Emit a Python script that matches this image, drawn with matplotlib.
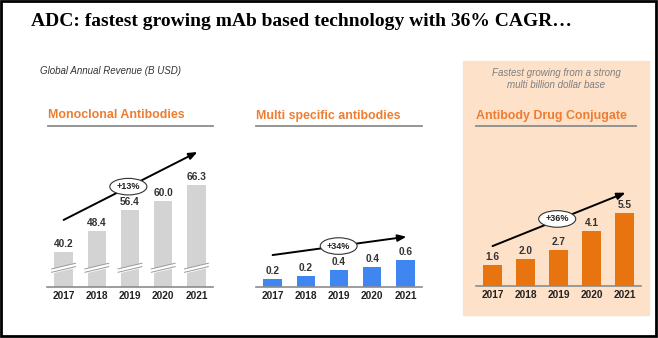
import numpy as np
import matplotlib
matplotlib.use("Agg")
import matplotlib.pyplot as plt
from matplotlib.patches import Rectangle

plt.rcParams['font.family'] = ['Liberation Sans', 'DejaVu Sans']

years = ["2017", "2018", "2019", "2020", "2021"]
mab_values = [40.2, 48.4, 56.4, 60.0, 66.3]
multi_values = [0.18, 0.24, 0.36, 0.44, 0.58]
adc_values = [1.6, 2.0, 2.7, 4.1, 5.5]
cagr = ["+13%", "+34%", "+36%"]

W, H = 658, 338
fig = plt.figure(figsize=(W / 100, H / 100), dpi=100)

# background layer in pixel coordinates
bg = fig.add_axes([0, 0, 1, 1])
bg.set_xlim(0, W)
bg.set_ylim(H, 0)
bg.axis("off")

orange = "#ED7D31"
bg.add_patch(Rectangle((463, 61), 186, 254, color="#FDE1C9", zorder=0))
bg.add_patch(Rectangle((1.2, 1.2), W - 3.2, H - 3, fill=False, ec="black", lw=2.0, zorder=5))

bg.text(31, 21, "ADC: fastest growing mAb based technology with 36% CAGR\u2026",
        family="Liberation Serif", fontweight="bold", fontsize=14, va="center", ha="left")
bg.text(40, 71, "Global Annual Revenue (B USD)", fontsize=7, style="italic",
        color="#333333", va="center")
bg.text(556, 73, "Fastest growing from a strong", fontsize=7, style="italic",
        color="#7f7f7f", va="center", ha="center")
bg.text(556, 85, "multi billion dollar base", fontsize=7, style="italic",
        color="#7f7f7f", va="center", ha="center")

panels = [("Monoclonal Antibodies", 48, 213), ("Multi specific antibodies", 256, 422),
          ("Antibody Drug Conjugate", 476, 636)]
for name, x0, x1 in panels:
    bg.text(x0, 115.5, name, fontsize=8.9, fontweight="bold", color=orange, va="center")
    bg.plot([x0, x1], [126, 126], color="#8c8c8c", lw=1.3)


def make_chart(left_px, right_px, base_px, values, color, ymin, px_per_unit):
    ax = fig.add_axes([left_px / W, 1 - base_px / H, (right_px - left_px) / W, 150 / H])
    ax.set_xlim(-0.5, 4.5)
    ax.set_ylim(ymin, ymin + 150 / px_per_unit)
    x = np.arange(len(values))
    ax.bar(x, np.array(values) - ymin, bottom=ymin, width=0.55, color=color, zorder=2)
    for xi, v in zip(x, values):
        ax.text(xi, v + 3 / px_per_unit, f"{v:.1f}", ha="center", va="bottom",
                fontsize=7.3, fontweight="bold", color="#333333")
    ax.set_xticks(x)
    ax.set_xticklabels(years, fontsize=7.3, fontweight="bold", color="#222222")
    ax.tick_params(length=0, pad=3)
    for s in ["top", "right", "left"]:
        ax.spines[s].set_visible(False)
    ax.spines["bottom"].set_color("#8c8c8c")
    ax.spines["bottom"].set_linewidth(1.2)
    ax.set_yticks([])
    ax.patch.set_alpha(0)
    return ax


ax1 = make_chart(47, 213, 287, mab_values, "#D3D3D3", 26.7, 2.58)
ax2 = make_chart(256, 422, 287, multi_values, "#3F86F0", 0, 46.5)
ax3 = make_chart(476, 641, 286, adc_values, "#E8740F", 0, 13.3)

# axis break marks on the monoclonal bars
for xi in range(len(mab_values)):
    xs = np.array([xi - 0.36, xi + 0.36])
    y0 = np.array([32.4, 34.6])
    ax1.fill_between(xs, y0, y0 + 1.3, color="white", zorder=3)
    ax1.plot(xs, y0, color="#9a9a9a", lw=0.7, zorder=4)
    ax1.plot(xs, y0 + 1.3, color="#9a9a9a", lw=0.7, zorder=4)

# growth arrows with CAGR labels (axes fraction y)
arrows = [(ax1, 0.447, 0.90, 1.95, 0.669), (ax2, 0.213, 0.335, 1.99, 0.273),
          (ax3, 0.266, 0.622, 1.96, 0.447)]
for (ax, ys, ye, lx, ly), lab in zip(arrows, cagr):
    tr = ax.get_xaxis_transform()
    ax.annotate("", xy=(4.03, ye), xytext=(0, ys), xycoords=tr, textcoords=tr,
                arrowprops=dict(arrowstyle="-|>,head_length=0.5,head_width=0.2",
                                color="black", lw=1.4, shrinkA=0, shrinkB=0), zorder=5)
    ax.text(lx, ly, lab, transform=tr, ha="center", va="center", fontsize=6.5,
            fontweight="bold", color="#222222", zorder=6,
            bbox=dict(boxstyle="ellipse,pad=0.15", fc="white", ec="#333333", lw=0.8))

fig.savefig("out.png", dpi=100)
